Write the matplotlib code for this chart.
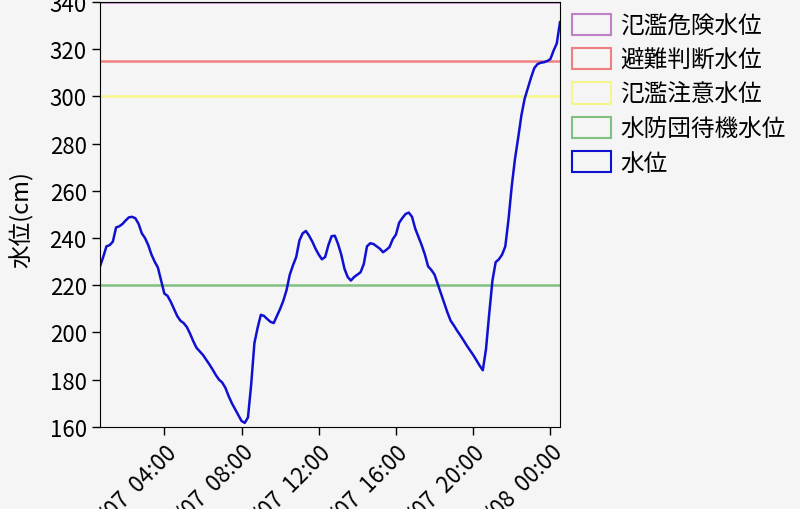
import matplotlib
matplotlib.use('Agg')
import matplotlib.pyplot as plt
import matplotlib.dates as mdates
from matplotlib.patches import Patch
import pandas as pd

plt.rcParams['font.family'] = ['Noto Sans CJK JP', 'DejaVu Sans']

# water level readings every 10 minutes, 2024-07-07 00:40 -> 2024-07-08 00:30
start_time = '2024-07-07 00:40'
water_level = [
    228, 232, 236.5, 237, 238.5, 244.5, 245, 246, 247.5, 248.8, 249, 248.4,
    246, 242, 240, 237, 233, 230, 227.5, 222, 216.5, 215.5, 213, 210,
    207, 205, 204, 202.3, 199.5, 196.3, 193.5, 192, 190.5, 188.5, 186.5, 184.3,
    182, 180, 178.8, 176.5, 173, 170, 167.5, 165, 162.5, 161.7, 164, 178,
    195.5, 202, 207.5, 207, 205.7, 204.5, 204, 207, 210, 213.5, 218, 224.5,
    228.5, 232, 239, 242, 243, 241, 238.5, 235.5, 233, 231, 232, 237,
    240.8, 241, 237.5, 233, 227, 223.5, 222, 223.5, 224.5, 225.5, 229, 236.5,
    237.8, 237.5, 236.5, 235.5, 234, 235, 236.2, 239.5, 241.5, 246.5, 248.5, 250.2,
    250.8, 249, 244, 240.5, 237, 233, 228, 226.5, 224.5, 220.5, 216.5, 212.5,
    208.5, 205, 203, 200.8, 198.8, 196.7, 194.5, 192.5, 190.5, 188.3, 186, 184,
    193, 208, 222, 229.8, 231, 233, 236.5, 248, 262, 273.5, 282.5, 292,
    299, 303.5, 308, 312, 313.7, 314.3, 314.5, 315, 315.8, 319.4, 322.5, 331.5,
]
times = pd.date_range(start_time, periods=len(water_level), freq='10min')

# reference levels (cm)
level_names = ['氾濫危険水位', '避難判断水位', '氾濫注意水位', '水防団待機水位']
level_values = [340, 315, 300, 220]
level_colors = ['#c080c8', '#f08080', '#f5f58a', '#80c080']
line_name = '水位'
line_color = '#1010d0'

bg = '#f5f5f5'
fig = plt.figure(figsize=(8, 5.1), dpi=100, facecolor=bg)
ax = fig.add_axes([0.125, 0.161, 0.575, 0.833])
ax.set_facecolor(bg)

for v, c in zip(level_values, level_colors):
    ax.axhline(v, color=c, linewidth=1.8)
ax.plot(times, water_level, color=line_color, linewidth=1.8)

ax.set_xlim(times[0], times[-1])
ax.set_ylim(160, 340)
ax.set_yticks(range(160, 341, 20))
ax.xaxis.set_major_locator(mdates.HourLocator(byhour=[0, 4, 8, 12, 16, 20]))
ax.xaxis.set_major_formatter(mdates.DateFormatter('%m/%d  %H:%M'))
ax.tick_params(axis='both', labelsize=16, length=6, width=1, colors='black')
plt.setp(ax.get_xticklabels(), rotation=45, ha='right', rotation_mode='anchor')
ax.set_ylabel('水位(cm)', fontsize=17)
ax.yaxis.set_label_coords(-0.145, 0.49)

handles = [Patch(facecolor='none', edgecolor=c, linewidth=1.5) for c in level_colors]
handles.append(Patch(facecolor='none', edgecolor=line_color, linewidth=1.5))
ax.legend(handles, level_names + [line_name], loc='upper left',
          bbox_to_anchor=(1.0, 1.0), frameon=False, fontsize=17,
          handlelength=1.65, handleheight=1.0, handletextpad=0.4,
          labelspacing=0.45, borderaxespad=0.1)

fig.savefig('out.png', dpi=100, facecolor=bg)
